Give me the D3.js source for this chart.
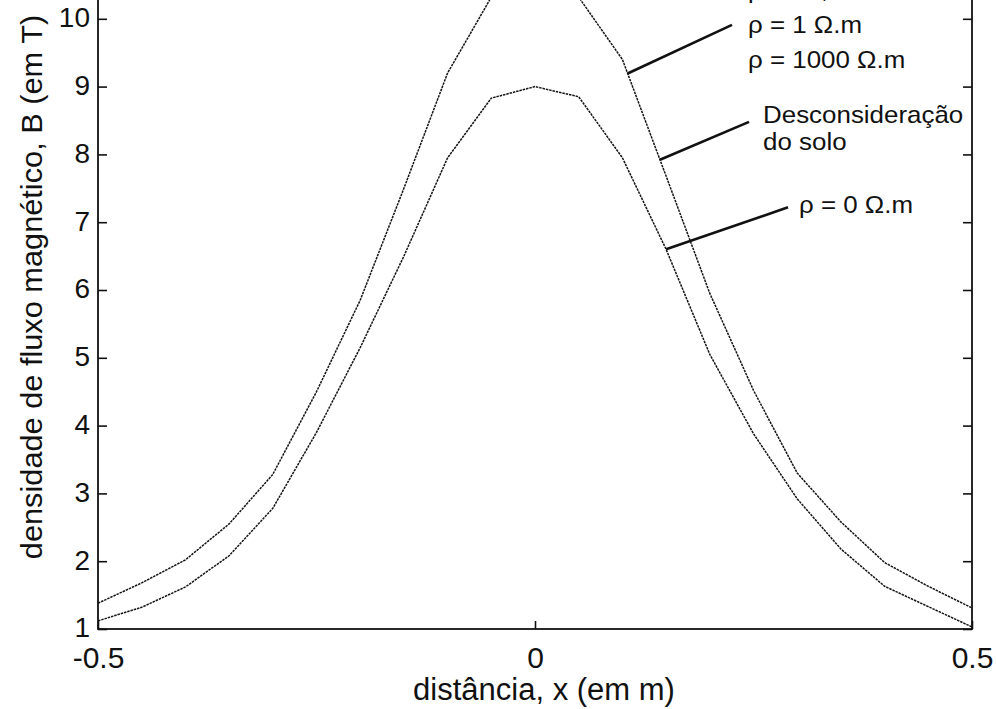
<!DOCTYPE html>
<html>
<head>
<meta charset="utf-8">
<script src="https://cdn.jsdelivr.net/npm/d3@7"></script>
<style>
  html, body { margin: 0; padding: 0; background: #fff; }
  svg { display: block; }
  text { font-family: "Liberation Sans", Arial, Helvetica, sans-serif; fill: #111; }
</style>
</head>
<body>
<svg id="chart" width="996" height="709"></svg>
<script>
// Distance from the conductor axis (m)
const distancia = [-0.5, -0.45, -0.4, -0.35, -0.3, -0.25, -0.2, -0.15, -0.1, -0.05, 0,
                   0.05, 0.1, 0.15, 0.2, 0.25, 0.3, 0.35, 0.4, 0.45, 0.5];

// Magnetic flux density B (T): soil neglected (same as rho = 1 and 1000 ohm.m)
const bSemSolo = [1.38, 1.68, 2.02, 2.55, 3.28, 4.5, 5.85, 7.5, 9.2, 10.32, 10.6,
                  10.32, 9.4, 7.68, 5.95, 4.52, 3.3, 2.58, 1.98, 1.63, 1.31];

// Magnetic flux density B (T): rho = 0 ohm.m
const bRho0 = [1.12, 1.32, 1.62, 2.08, 2.78, 3.9, 5.15, 6.5, 7.95, 8.83, 9.0,
               8.85, 7.95, 6.6, 5.05, 3.88, 2.92, 2.18, 1.63, 1.33, 1.03];

const xTicks = [-0.5, 0, 0.5];
const yTicks = [1, 2, 3, 4, 5, 6, 7, 8, 9, 10, 11];

// Callouts: which curve, where the leader touches it (x), leader end point, text anchor and lines
const calloutCurve = ["semSolo", "semSolo", "rho0"];
const calloutAtX   = [0.106, 0.143, 0.15];
const calloutEndX  = [0.2254, 0.2449, 0.2895];
const calloutEndY  = [9.91, 8.48, 7.22];
const calloutTextX = [0.2437, 0.2609, 0.302];
const calloutTextY = [10.31, 8.46, 7.14];
const calloutLines = [
  ["ρ = 10, 100 Ω.m", "ρ = 1 Ω.m", "ρ = 1000 Ω.m"],
  ["Desconsideração", "do solo"],
  ["ρ = 0 Ω.m"]
];

const svg = d3.select("#chart");
const plotLeft = 98, plotRight = 972, plotBottom = 629, plotTop = -49;

const x = d3.scaleLinear().domain([-0.5, 0.5]).range([plotLeft, plotRight]);
const y = d3.scaleLinear().domain([1, 11]).range([plotBottom, plotTop]);

const series = {
  semSolo: distancia.map((d, i) => [d, bSemSolo[i]]),
  rho0: distancia.map((d, i) => [d, bRho0[i]])
};

// value of a curve at an arbitrary x (piecewise linear, as plotted)
function valueAt(pts, xv) {
  const i = Math.max(1, Math.min(pts.length - 1, d3.bisector(p => p[0]).left(pts, xv)));
  const a = pts[i - 1], b = pts[i];
  return a[1] + (b[1] - a[1]) * (xv - a[0]) / (b[0] - a[0]);
}

// curves
const line = d3.line().x(d => x(d[0])).y(d => y(d[1]));
Object.values(series).forEach(pts => {
  svg.append("path")
    .datum(pts)
    .attr("d", line)
    .attr("fill", "none")
    .attr("stroke", "#151515")
    .attr("stroke-width", 1.5)
    .attr("stroke-dasharray", "2.5,0.9");
});

// axes with inward ticks
const fmt = d => String(d);
const gx = svg.append("g").attr("transform", `translate(0,${plotBottom})`)
  .call(d3.axisBottom(x).tickValues(xTicks).tickFormat(fmt).tickSizeInner(-8).tickSizeOuter(0).tickPadding(18));
const gy = svg.append("g").attr("transform", `translate(${plotLeft},0)`)
  .call(d3.axisLeft(y).tickValues(yTicks).tickFormat(fmt).tickSizeInner(-9).tickSizeOuter(0).tickPadding(8));
const gr = svg.append("g").attr("transform", `translate(${plotRight},0)`)
  .call(d3.axisRight(y).tickValues(yTicks).tickFormat("").tickSizeInner(-9).tickSizeOuter(0));
const gt = svg.append("g").attr("transform", `translate(0,${plotTop})`)
  .call(d3.axisTop(x).tickValues(xTicks).tickFormat("").tickSizeInner(-8).tickSizeOuter(0));

[gx, gy, gr, gt].forEach(g => {
  g.select(".domain").remove();
  g.selectAll(".tick line").attr("stroke", "#111").attr("stroke-width", 1.6);
});
gx.selectAll("text").attr("font-size", 30).attr("fill", "#111");
gy.selectAll("text").attr("font-size", 28).attr("fill", "#111").attr("dy", "0.28em");

// frame
svg.append("rect")
  .attr("x", plotLeft).attr("y", plotTop)
  .attr("width", plotRight - plotLeft).attr("height", plotBottom - plotTop)
  .attr("fill", "none").attr("stroke", "#111").attr("stroke-width", 1.8);

// axis titles
svg.append("text")
  .attr("transform", `translate(544,700)`)
  .attr("text-anchor", "middle")
  .attr("font-size", 31)
  .text("distância, x (em m)");

svg.append("text")
  .attr("transform", `translate(42,287) rotate(-90) scale(1.06,1)`)
  .attr("text-anchor", "middle")
  .attr("font-size", 29)
  .text("densidade de fluxo magnético, B (em T)");

// callouts
calloutCurve.forEach((key, i) => {
  const x0 = calloutAtX[i];
  const y0 = valueAt(series[key], x0);
  svg.append("line")
    .attr("x1", x(x0)).attr("y1", y(y0))
    .attr("x2", x(calloutEndX[i])).attr("y2", y(calloutEndY[i]))
    .attr("stroke", "#111").attr("stroke-width", 2.6);

  const tx = x(calloutTextX[i]), ty = y(calloutTextY[i]);
  const lh = calloutLines[i].length > 2 ? 35 : 27;
  calloutLines[i].forEach((s, j) => {
    svg.append("text")
      .attr("transform", `translate(${tx},${ty + j * lh}) scale(1.08,1)`)
      .attr("font-size", 24)
      .text(s);
  });
});
</script>
</body>
</html>
